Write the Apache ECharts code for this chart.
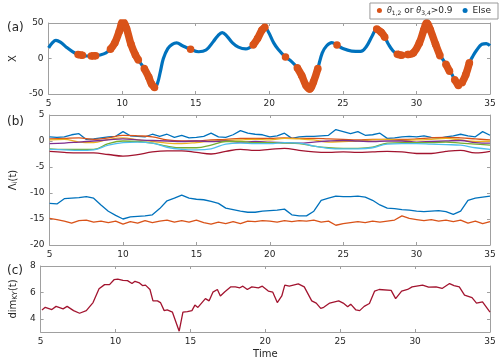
<!DOCTYPE html>
<html>
<head>
<meta charset="utf-8">
<script src="https://cdn.jsdelivr.net/npm/echarts@6/dist/echarts.min.js"></script>
<style>
	html, body { margin: 0; padding: 0; background: #ffffff; }
	#box { width: 500px; height: 360px; }
</style>
</head>
<body>
<div id="box"></div>
<script type="text/javascript">
	// (a) X(t), flag = 1 where theta_12 or theta_34 > 0.9
	var tA = [5.0, 5.25, 5.5, 5.8, 6.2, 6.6, 7.0, 7.3, 7.6, 7.9, 8.2, 8.5, 8.9, 9.2, 9.5, 9.8, 10.05, 10.3, 10.6, 10.9,
		11.1, 11.3, 11.5, 11.8, 12.0, 12.2, 12.4, 12.6, 12.8, 13.1, 13.4, 13.7, 14.1, 14.65, 15.2, 15.7, 16.2, 16.5, 16.8, 17.1,
		17.5, 17.9, 18.4, 18.9, 19.2, 19.5, 19.7, 19.95, 20.3, 20.6, 21.1, 21.5, 21.9, 22.2, 22.5, 22.75, 23.0, 23.3, 23.6, 23.9,
		24.25, 24.6, 25.0, 25.6, 26.2, 26.6, 27.0, 27.3, 27.6, 27.85, 28.1, 28.4, 28.7, 29.0, 29.15, 29.4, 29.8, 30.2, 30.5, 30.7,
		30.95, 31.3, 31.6, 31.75, 32.0, 32.25, 32.35, 32.6, 32.85, 32.95, 33.1, 33.35, 33.6, 33.8, 34.1, 34.45, 34.75, 35.0];
	var xA = [15, 22, 25.5, 23, 16, 10, 5.5, 4.5, 3.5, 3.5, 4, 5, 8, 13, 22, 38, 52, 42, 20, 5,
		-2, -8, -14, -26, -36, -41, -35, -18, 0, 14, 20, 22, 18, 13, 9.5, 12, 24, 32, 36.5, 32,
		22, 16, 13.5, 19, 28, 40, 44, 37, 22, 13, 2, -4, -13, -24, -38, -43, -33, -14, 8, 18,
		22.5, 19, 14, 10.5, 10, 17, 32, 41.5, 37, 30, 20, 11, 6, 4.5, 4.5, 5.5, 8, 22, 40, 50,
		40, 20, 4, 0, -8, -18, -20, -30, -38, -38, -34, -23, -6, 2, 12, 20, 21, 18];
	var flagA = [0, 0, 0, 0, 0, 0, 1, 1, 0, 1, 1, 0, 0, 1, 1, 1, 1, 1, 1, 1,
		1, 0, 1, 1, 1, 1, 0, 0, 0, 0, 0, 0, 0, 1, 0, 0, 0, 0, 0, 0,
		0, 0, 0, 1, 1, 1, 1, 0, 0, 0, 1, 0, 1, 1, 1, 1, 1, 1, 0, 0,
		0, 1, 0, 0, 0, 0, 0, 1, 1, 1, 0, 0, 1, 1, 0, 1, 1, 1, 1, 1,
		1, 1, 1, 0, 1, 1, 0, 1, 1, 0, 1, 1, 1, 0, 0, 0, 0, 0];

	// (b) Lyapunov exponents
	var lam1 = [0.8, 0.7, 0.8, 1.2, 1.4, 0.3, 0.4, 0.6, 0.8, 0.9,
		1.8, 1.0, 0.9, 0.8, 1.3, 0.9, 1.3, 0.7, 1.1, 0.6,
		0.7, 0.9, 1.5, 0.8, 0.7, 1.2, 2.0, 1.5, 1.3, 1.2,
		0.8, 1.0, 1.5, 0.5, 0.8, 0.9, 0.9, 1.0, 1.1, 2.2,
		1.8, 1.4, 1.8, 1.1, 1.2, 1.5, 0.5, 0.6, 0.8, 0.9,
		0.8, 1.0, 0.7, 0.5, 0.8, 1.0, 1.3, 1.0, 0.8, 1.8,
		1.1];
	var lam2 = [0.4, 0.5, 0.6, 0.3, 0.6, 1.1, 1.0, 0.8, 0.2, 0.0, 0.0, 0.2, 0.3, 0.5, 0.5, 0.5,
		0.6, 0.5, 0.5, 0.4, 0.3, 0.2, 0.3, 0.3, 0.3, 0.4, 0.6, 0.7, 0.6, 0.4, 0.2];
	var lam3 = [0.2, 0.3, -0.2, -0.3, 0.3, 0.6, 0.2, -0.1, -0.4, -0.5, -0.3, 0.0, 0.1, 0.2, 0.3, 0.2,
		0.5, 0.4, 0.2, -0.2, -0.1, 0.0, 0.2, 0.3, 0.1, 0.2, 0.3, 0.5, 0.2, -0.1, 0.0];
	var lam4 = [-0.5, -0.4, -0.2, 0.0, 0.2, 0.4, 0.2, 0.1, 0.0, -0.1, 0.0, -0.1, 0.0, -0.2, -0.1, -0.2,
		-0.3, -0.4, -0.2, 0.0, 0.1, 0.0, -0.1, 0.0, 0.0, -0.2, -0.1, 0.0, 0.1, -0.3, -0.4];
	var lam5 = [-1.5, -1.6, -1.6, -1.6, -0.5, 0.0, -0.1, -0.4, -1.0, -1.3, -1.3, -0.8, -0.1, -0.1, -0.3, -0.3,
		-0.4, -0.5, -1.0, -1.3, -1.4, -1.4, -1.2, -0.4, -0.3, -0.3, -0.3, -0.2, -0.4, -0.6, -0.8];
	var lam6 = [-1.6, -1.7, -1.8, -1.7, -0.8, -0.3, -0.2, -0.4, -1.2, -1.6, -1.7, -1.5, -0.6, -0.4, -0.5, -0.5,
		-0.3, -0.4, -1.0, -1.4, -1.5, -1.5, -1.3, -0.6, -0.5, -0.5, -0.6, -0.7, -0.8, -1.3, -1.6];
	var lam7 = [-2.0, -2.2, -2.3, -2.3, -2.6, -2.9, -2.6, -2.1, -1.9, -1.9, -2.2, -2.5, -2.0, -1.6, -1.8, -1.6,
		-1.4, -1.8, -2.1, -2.2, -2.1, -2.2, -2.1, -2.0, -2.1, -2.4, -2.4, -2.0, -1.8, -2.3, -2.0];
	var lam8 = [-12.0, -12.1, -11.1, -11.0, -10.9, -10.7, -11.0, -12.3, -13.5, -14.3,
		-15.0, -14.6, -14.5, -14.4, -14.2, -13.0, -11.5, -11.0, -10.4, -11.0,
		-11.2, -11.3, -11.6, -12.0, -12.9, -13.2, -13.5, -13.7, -13.7, -13.5,
		-13.4, -13.3, -13.1, -14.2, -14.4, -14.4, -13.5, -11.4, -11.0, -10.6,
		-10.7, -10.7, -10.6, -10.8, -11.4, -12.3, -12.9, -13.0, -13.2, -13.3,
		-13.5, -13.6, -13.5, -13.4, -13.6, -14.1, -13.5, -11.4, -11.0, -10.8,
		-10.6];
	var lam9 = [-14.9, -15.1, -15.4, -15.8, -15.3, -15.2, -15.6, -15.4, -15.7, -15.4,
		-16.0, -15.5, -15.8, -15.3, -15.7, -15.4, -15.2, -15.6, -15.3, -15.6,
		-15.2, -15.7, -16.0, -15.6, -15.9, -15.5, -15.9, -15.4, -15.5, -15.3,
		-15.4, -15.6, -15.3, -15.5, -15.3, -15.4, -15.2, -15.6, -15.4, -16.2,
		-15.9, -15.7, -15.5, -15.7, -15.4, -15.6, -15.4, -15.2, -14.4, -14.9,
		-15.1, -15.3, -15.1, -15.4, -15.2, -15.5, -15.2, -15.8, -15.4, -15.9,
		-15.5];

	// (c) Kaplan-Yorke dimension
	var tC = [5.09, 5.31, 5.75, 6.03, 6.5, 6.77, 7.2, 7.6, 8.05, 8.5, 8.9, 9.27, 9.6, 9.9, 10.15, 10.5, 10.8, 11.1, 11.3, 11.6,
		11.8, 12.0, 12.3, 12.5, 12.8, 13.0, 13.25, 13.45, 13.8, 14.25, 14.5, 14.8, 15.1, 15.3, 15.5, 16.0, 16.25, 16.5, 16.8, 17.0,
		17.3, 17.7, 18.0, 18.3, 18.5, 18.8, 19.1, 19.54, 19.8, 20.2, 20.5, 20.8, 21.1, 21.3, 21.6, 22.2, 22.6, 23.1, 23.4, 23.7,
		23.9, 24.3, 24.9, 25.2, 25.5, 25.7, 26.05, 26.3, 26.6, 26.95, 27.3, 27.6, 28.4, 28.7, 29.1, 29.5, 29.8, 30.5, 30.9, 31.4,
		31.8, 32.3, 32.6, 32.95, 33.3, 33.8, 34.1, 34.5, 35.0];
	var dimC = [4.67, 4.87, 4.7, 4.94, 4.75, 4.94, 4.62, 4.42, 4.62, 5.23, 6.27, 6.59, 6.59, 6.96, 7.0, 6.91, 6.89, 6.67, 6.84, 6.72,
		6.52, 6.55, 6.22, 5.36, 5.36, 5.23, 4.62, 4.67, 4.5, 3.06, 4.5, 4.54, 4.62, 5.04, 4.86, 5.53, 5.36, 6.02, 6.22, 5.73,
		6.05, 6.42, 6.42, 6.35, 6.47, 6.22, 6.42, 6.35, 6.47, 6.1, 6.02, 5.23, 5.73, 6.55, 6.47, 6.64, 6.42, 5.36, 5.19, 4.79,
		4.87, 5.19, 5.36, 5.19, 4.91, 5.11, 4.67, 4.62, 4.94, 5.16, 6.1, 6.22, 6.15, 5.53, 6.1, 6.22, 6.42, 6.55, 6.4, 6.42,
		6.3, 6.67, 6.52, 6.42, 5.8, 5.6, 5.19, 5.28, 4.5];

	var lineColors = ['#0072BD', '#D95319', '#EDB120', '#7E2F8E', '#77AC30', '#4DBEEE', '#A2142F', '#0072BD', '#D95319'];

	var tB1 = [];
	for (var i = 5; i <= 35; i++) tB1.push(i);
	var tB2 = [];
	for (var i = 0; i <= 60; i++) tB2.push(5 + i * 0.5);

	function pairs(t, v) {
		return t.map(function (x, i) { return [x, v[i]]; });
	}

	var fnt = 'DejaVu Sans';
	var axCol = '#a0a0a0';
	var txtCol = '#262626';

	var grids = [
		{ left: 37, right: 10, top: 23, height: 71 },
		{ left: 37, right: 10, top: 115, height: 130 },
		{ left: 37, right: 10, top: 266, height: 67.5 }
	];

	function xAx(g, pos, name) {
		return {
			type: 'value', gridIndex: g, position: pos, min: 5, max: 35, interval: 5,
			axisLine: { show: true, onZero: false, lineStyle: { color: axCol, width: 1 } },
			axisTick: { show: true, inside: true, length: 3, lineStyle: { color: axCol } },
			axisLabel: { show: pos === 'bottom', fontFamily: fnt, fontSize: 9, color: txtCol, margin: 5 },
			splitLine: { show: false },
			name: name || '', nameLocation: 'middle', nameGap: 17,
			nameTextStyle: { fontFamily: fnt, fontSize: 10, color: txtCol }
		};
	}

	function yAx(g, pos, mn, mx, iv, name, gap, custom) {
		var a = {
			type: 'value', gridIndex: g, position: pos, min: mn, max: mx, interval: iv,
			axisLine: { show: true, onZero: false, lineStyle: { color: axCol, width: 1 } },
			axisTick: { show: true, inside: true, length: 3, lineStyle: { color: axCol } },
			axisLabel: { show: pos === 'left', fontFamily: fnt, fontSize: 9, color: txtCol, margin: 5 },
			splitLine: { show: false },
			name: pos === 'left' ? name : '', nameLocation: 'middle', nameGap: gap, nameRotate: 90,
			nameTextStyle: {
				fontFamily: fnt, fontSize: 10, color: txtCol,
				rich: {
					a: { fontFamily: fnt, fontSize: 10, color: txtCol },
					s: { fontFamily: fnt, fontSize: 7, color: txtCol, padding: [5, 0, 0, 0] }
				}
			}
		};
		if (custom) {
			a.axisTick.customValues = custom;
			a.axisLabel.customValues = custom;
		}
		return a;
	}

	var orangeData = tA.map(function (t, i) { return flagA[i] ? [t, xA[i]] : [t, '-']; });

	var series = [
		{
			name: 'Else', type: 'line', xAxisIndex: 0, yAxisIndex: 0,
			data: pairs(tA, xA), smooth: 0.4, showSymbol: false,
			lineStyle: { color: '#0072BD', width: 3.2 }, itemStyle: { color: '#0072BD' }, z: 2
		},
		{
			name: 'theta', type: 'line', xAxisIndex: 0, yAxisIndex: 0,
			data: orangeData, smooth: 0.4, connectNulls: false,
			showSymbol: true, showAllSymbol: true, symbol: 'circle', symbolSize: 7.5,
			lineStyle: { color: '#D95319', width: 7.5 },
			itemStyle: { color: '#D95319' }, z: 3
		}
	];

	var lamList = [lam1, lam2, lam3, lam4, lam5, lam6, lam7, lam8, lam9];
	var lamT = [tB2, tB1, tB1, tB1, tB1, tB1, tB1, tB2, tB2];
	lamList.forEach(function (v, k) {
		series.push({
			type: 'line', xAxisIndex: 2, yAxisIndex: 2,
			data: pairs(lamT[k], v), showSymbol: false,
			smooth: lamT[k] === tB1 ? 0.4 : false,
			lineStyle: { color: lineColors[k], width: 1.3 }
		});
	});

	series.push({
		type: 'line', xAxisIndex: 4, yAxisIndex: 4,
		data: pairs(tC, dimC), showSymbol: false,
		lineStyle: { color: '#A2142F', width: 1.3 }
	});

	var option = {
		animation: false,
		backgroundColor: '#ffffff',
		textStyle: { fontFamily: fnt },
		title: [
			{ text: '(a)', left: 2, top: 17, textStyle: { fontFamily: fnt, fontSize: 12, fontWeight: 'normal', color: txtCol } },
			{ text: '(b)', left: 2, top: 111, textStyle: { fontFamily: fnt, fontSize: 12, fontWeight: 'normal', color: txtCol } },
			{ text: '(c)', left: 2, top: 260, textStyle: { fontFamily: fnt, fontSize: 12, fontWeight: 'normal', color: txtCol } }
		],
		legend: {
			data: ['theta', 'Else'],
			right: 2, top: 3, width: 300, orient: 'horizontal',
			padding: [3, 7, 3, 7], itemGap: 10, itemWidth: 5, itemHeight: 5,
			icon: 'circle',
			borderColor: '#9a9a9a', borderWidth: 1, backgroundColor: '#ffffff',
			formatter: function (name) {
				if (name === 'theta') return '{t|θ}{s|1,2}{n| or }{t|θ}{s|3,4}{n|>0.9}';
				return '{n|' + name + '}';
			},
			textStyle: {
				fontFamily: fnt, fontSize: 9, color: txtCol,
				rich: {
					n: { fontFamily: fnt, fontSize: 9, color: txtCol },
					t: { fontFamily: fnt, fontSize: 8, color: txtCol, fontStyle: 'italic' },
					s: { fontFamily: fnt, fontSize: 6, color: txtCol, padding: [5, 0, 0, 0] }
				}
			}
		},
		grid: grids,
		xAxis: [
			xAx(0, 'bottom'), xAx(0, 'top'),
			xAx(1, 'bottom'), xAx(1, 'top'),
			xAx(2, 'bottom', 'Time'), xAx(2, 'top')
		],
		yAxis: [
			yAx(0, 'left', -50, 50, 50, 'X', 22), yAx(0, 'right', -50, 50, 50),
			yAx(1, 'left', -20, 5, 5, '{a|Λ}{s|i}{a|(t)}', 20), yAx(1, 'right', -20, 5, 5),
			yAx(2, 'left', 3, 8, 1, '{a|dim}{s|KY}{a|(t)}', 20, [4, 6, 8]), yAx(2, 'right', 3, 8, 1, '', 0, [4, 6, 8])
		],
		series: series
	};

	var myChart = echarts.init(document.getElementById('box'), null, { renderer: 'canvas' });
	myChart.setOption(option);
</script>
</body>
</html>
